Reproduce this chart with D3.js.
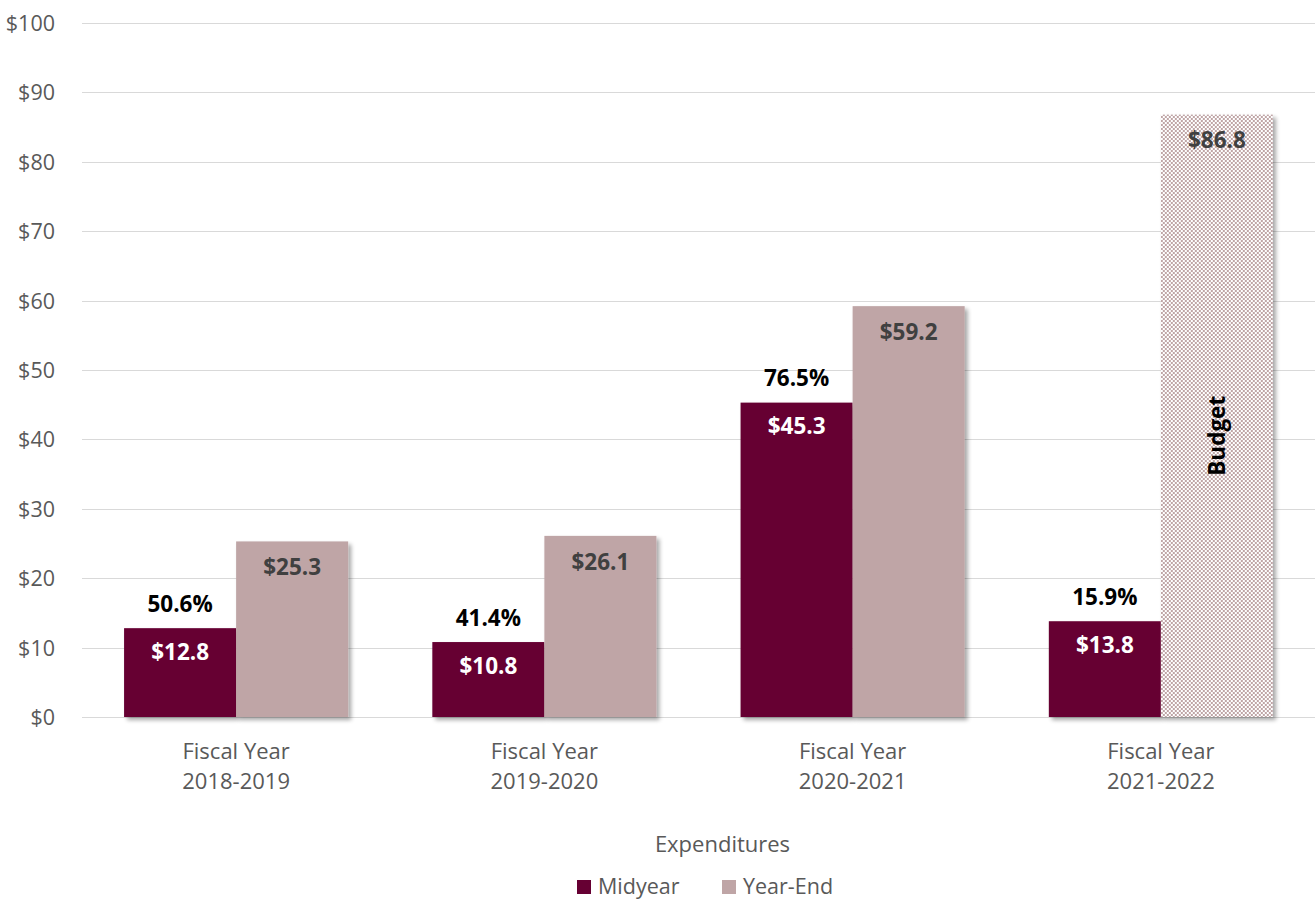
<!DOCTYPE html>
<html>
<head>
<meta charset="utf-8">
<script src="https://cdn.jsdelivr.net/npm/d3@7"></script>
<style>
  html, body { margin: 0; padding: 0; background: #fff; }
  svg { display: block; font-family: "Open Sans", "Liberation Sans", sans-serif; }
</style>
</head>
<body>
<svg id="chart" width="1315" height="901"></svg>
<script>
// Expenditures by fiscal year, in millions of dollars
const categories = ["Fiscal Year 2018-2019", "Fiscal Year 2019-2020", "Fiscal Year 2020-2021", "Fiscal Year 2021-2022"];
const categoryLines = [["Fiscal Year", "2018-2019"], ["Fiscal Year", "2019-2020"], ["Fiscal Year", "2020-2021"], ["Fiscal Year", "2021-2022"]];
const midyear = [12.8, 10.8, 45.3, 13.8];
const yearEnd = [25.3, 26.1, 59.2, 86.8];
const midyearShare = ["50.6%", "41.4%", "76.5%", "15.9%"];
const budgetFlags = [false, false, false, true];
const seriesNames = ["Midyear", "Year-End"];
const yTicks = [0, 10, 20, 30, 40, 50, 60, 70, 80, 90, 100];

const colMid = "#660033";
const colEnd = "#bfa5a6";

const svg = d3.select("#chart");
const margin = { left: 82, right: 0, top: 23, bottom: 184 };
const W = 1315, H = 901;

const x = d3.scaleBand().domain(categories).range([margin.left, W - margin.right]).paddingInner(0.273).paddingOuter(0.1365);
const x1 = d3.scaleBand().domain(seriesNames).range([0, x.bandwidth()]);
const y = d3.scaleLinear().domain([0, 100]).range([H - margin.bottom, margin.top]);

const defs = svg.append("defs");
const shadow = defs.append("filter").attr("id", "barShadow").attr("x", "-10%").attr("y", "-10%").attr("width", "130%").attr("height", "130%");
shadow.append("feGaussianBlur").attr("in", "SourceAlpha").attr("stdDeviation", 2.2).attr("result", "b");
shadow.append("feOffset").attr("in", "b").attr("dx", 3).attr("dy", 3).attr("result", "o");
shadow.append("feComponentTransfer").attr("in", "o").attr("result", "s")
  .append("feFuncA").attr("type", "linear").attr("slope", 0.35);
const merge = shadow.append("feMerge");
merge.append("feMergeNode").attr("in", "s");
merge.append("feMergeNode").attr("in", "SourceGraphic");

// small checkerboard used for the budgeted year
const pat = defs.append("pattern").attr("id", "checks").attr("patternUnits", "userSpaceOnUse")
  .attr("width", 4).attr("height", 4);
pat.append("rect").attr("width", 4).attr("height", 4).attr("fill", "#ffffff");
pat.append("rect").attr("width", 2).attr("height", 2).attr("fill", colEnd);
pat.append("rect").attr("x", 2).attr("y", 2).attr("width", 2).attr("height", 2).attr("fill", colEnd);

// gridlines
svg.append("g").selectAll("line").data(yTicks).join("line")
  .attr("x1", margin.left).attr("x2", W)
  .attr("y1", d => Math.round(y(d)) + 0.5).attr("y2", d => Math.round(y(d)) + 0.5)
  .attr("stroke", "#d9d9d9").attr("stroke-width", 1);

// y axis labels
const yAxis = d3.axisLeft(y).tickValues(yTicks).tickFormat(d => "$" + d).tickSize(0).tickPadding(0);
const gy = svg.append("g").attr("transform", `translate(${margin.left - 27},0)`).call(yAxis);
gy.select(".domain").remove();
gy.selectAll("text").attr("fill", "#595959").style("font-size", "21.5px").attr("font-family", "Open Sans, sans-serif").attr("dy", "0.35em");

const groups = svg.append("g").selectAll("g").data(categories).join("g")
  .attr("transform", d => `translate(${x(d)},0)`);

// midyear bars
groups.append("rect")
  .attr("x", x1("Midyear")).attr("width", x1.bandwidth())
  .attr("y", (d, i) => y(midyear[i])).attr("height", (d, i) => y(0) - y(midyear[i]))
  .attr("fill", colMid).attr("filter", "url(#barShadow)");

// year-end bars (budget year drawn with the checkered fill)
groups.append("rect")
  .attr("x", x1("Year-End")).attr("width", x1.bandwidth())
  .attr("y", (d, i) => y(yearEnd[i])).attr("height", (d, i) => y(0) - y(yearEnd[i]))
  .attr("fill", (d, i) => budgetFlags[i] ? "url(#checks)" : colEnd).attr("filter", "url(#barShadow)");

const lblStyle = sel => sel.attr("text-anchor", "middle").attr("dy", "0.35em").style("font-size", "22.5px").style("font-weight", "bold");

groups.append("text").call(lblStyle)
  .attr("x", x1("Midyear") + x1.bandwidth() / 2)
  .attr("y", (d, i) => y(midyear[i]) + 24)
  .attr("fill", "#ffffff")
  .text((d, i) => "$" + midyear[i].toFixed(1));

groups.append("text").call(lblStyle)
  .attr("x", x1("Midyear") + x1.bandwidth() / 2)
  .attr("y", (d, i) => y(midyear[i]) - 24)
  .attr("fill", "#000000")
  .text((d, i) => midyearShare[i]);

groups.append("text").call(lblStyle)
  .attr("x", x1("Year-End") + x1.bandwidth() / 2)
  .attr("y", (d, i) => y(yearEnd[i]) + 26)
  .attr("fill", "#404040")
  .text((d, i) => "$" + yearEnd[i].toFixed(1));

groups.filter((d, i) => budgetFlags[i]).append("text").call(lblStyle)
  .attr("transform", d => {
    const i = categories.indexOf(d);
    const cx = x1("Year-End") + x1.bandwidth() / 2;
    const cy = (y(yearEnd[i]) + y(0)) / 2 + 20;
    return `translate(${cx},${cy}) rotate(-90)`;
  })
  .attr("fill", "#000000")
  .text("Budget");

// category labels
groups.each(function(d, i) {
  const t = d3.select(this).append("text")
    .attr("text-anchor", "middle").attr("fill", "#595959").style("font-size", "22px")
    .attr("x", x.bandwidth() / 2).attr("y", 751).attr("dy", "0.35em");
  categoryLines[i].forEach((line, k) => {
    t.append("tspan").attr("x", x.bandwidth() / 2).attr("dy", k === 0 ? "0.35em" : 30).text(line);
  });
});

// axis title
svg.append("text").attr("x", (margin.left + W) / 2 + 24).attr("y", 844).attr("dy", "0.35em")
  .attr("text-anchor", "middle").attr("fill", "#595959").style("font-size", "22px")
  .text("Expenditures");

// legend
const legend = svg.append("g");
const legendX = [577, 722];
seriesNames.forEach((name, i) => {
  legend.append("rect").attr("x", legendX[i]).attr("y", 880).attr("width", 14).attr("height", 14)
    .attr("fill", i === 0 ? colMid : colEnd);
  legend.append("text").attr("x", legendX[i] + 21).attr("y", 886).attr("dy", "0.35em")
    .attr("fill", "#595959").style("font-size", "21.5px").text(name);
});
</script>
</body>
</html>
